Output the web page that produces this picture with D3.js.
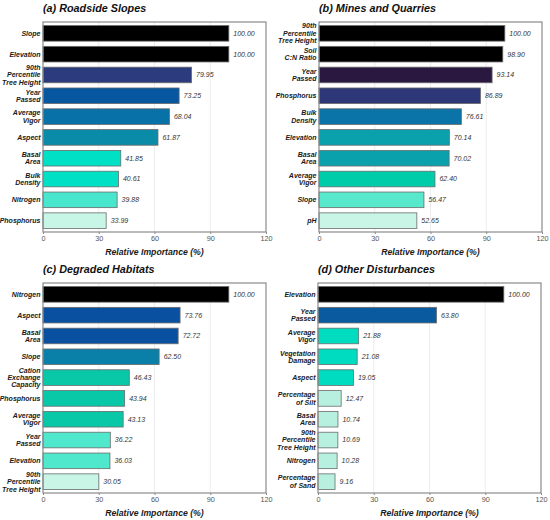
<!DOCTYPE html>
<html lang="en">
<head>
  <meta charset="utf-8" />
  <script src="https://d3js.org/d3.v7.min.js"></script>
  <style>
    body { margin: 0; background: #fff; }
    svg { font-family: "Liberation Sans", Arial, sans-serif; }
  </style>
</head>
<body>
<script>
  // data for the four panels
  let titles = ["(a) Roadside Slopes", "(b) Mines and Quarries", "(c) Degraded Habitats", "(d) Other Disturbances"];

  let varsA = ["Slope", "Elevation", "90th\nPercentile\nTree Height", "Year\nPassed", "Average\nVigor", "Aspect", "Basal\nArea", "Bulk\nDensity", "Nitrogen", "Phosphorus"];
  let valsA = [100.00, 100.00, 79.95, 73.25, 68.04, 61.87, 41.85, 40.61, 39.88, 33.99];

  let varsB = ["90th\nPercentile\nTree Height", "Soil\nC:N Ratio", "Year\nPassed", "Phosphorus", "Bulk\nDensity", "Elevation", "Basal\nArea", "Average\nVigor", "Slope", "pH"];
  let valsB = [100.00, 98.90, 93.14, 86.89, 76.61, 70.14, 70.02, 62.40, 56.47, 52.65];

  let varsC = ["Nitrogen", "Aspect", "Basal\nArea", "Slope", "Cation\nExchange\nCapacity", "Phosphorus", "Average\nVigor", "Year\nPassed", "Elevation", "90th\nPercentile\nTree Height"];
  let valsC = [100.00, 73.76, 72.72, 62.50, 46.43, 43.94, 43.13, 36.22, 36.03, 30.05];

  let varsD = ["Elevation", "Year\nPassed", "Average\nVigor", "Vegetation\nDamage", "Aspect", "Percentage\nof Silt", "Basal\nArea", "90th\nPercentile\nTree Height", "Nitrogen", "Percentage\nof Sand"];
  let valsD = [100.00, 63.80, 21.88, 21.08, 19.05, 12.47, 10.74, 10.69, 10.28, 9.16];

  let xTicks = [0, 30, 60, 90, 120];
  let xLabel = "Relative Importance (%)";

  // bar fills per panel (styling)
  let fillsA = ["#000000", "#000000", "#2c3a7e", "#0656a0", "#0872a8", "#0a8ca8", "#00e0c4", "#00e0c4", "#48e6cc", "#c8f6e6"];
  let fillsB = ["#000000", "#000000", "#2a1840", "#2e3878", "#0a74a8", "#0aa0ac", "#0aa0ac", "#00ccaa", "#58e8cc", "#c8f5e6"];
  let fillsC = ["#000000", "#0a50a0", "#0a50a0", "#0a80a8", "#08c8a8", "#08c8a8", "#08c8a8", "#50e8cc", "#50e8cc", "#c8f5e6"];
  let fillsD = ["#000000", "#0a5aa0", "#00dcc0", "#00dcc0", "#00dcc0", "#b8f0e0", "#b8f0e0", "#b8f0e0", "#b8f0e0", "#b8f0e0"];

  let panels = [
    { title: titles[0], vars: varsA, vals: valsA, fills: fillsA, x0: 43,  y0: 22 },
    { title: titles[1], vars: varsB, vals: valsB, fills: fillsB, x0: 319, y0: 22 },
    { title: titles[2], vars: varsC, vals: valsC, fills: fillsC, x0: 43,  y0: 283 },
    { title: titles[3], vars: varsD, vals: valsD, fills: fillsD, x0: 318, y0: 283 }
  ];

  let W = 223, H = 210;

  var svg = d3.select("body")
              .append("svg")
              .attr("width", 550)
              .attr("height", 520);

  panels.forEach(function (p) {
    let g = svg.append("g").attr("transform", "translate(" + p.x0 + "," + p.y0 + ")");

    let x = d3.scaleLinear().domain([0, 120]).range([0, W]);
    let y = d3.scaleBand().domain(d3.range(p.vals.length)).range([0, H])
              .paddingInner(0.25).paddingOuter(0.17);

    // faint grid
    g.selectAll("line.grid")
      .data(xTicks.slice(1, -1))
      .join("line")
      .attr("class", "grid")
      .attr("x1", d => x(d)).attr("x2", d => x(d))
      .attr("y1", 0).attr("y2", H)
      .attr("stroke", "#e8e8e8")
      .attr("stroke-width", 0.8);

    // bars
    g.selectAll("rect.bar")
      .data(p.vals)
      .join("rect")
      .attr("class", "bar")
      .attr("x", x(0))
      .attr("y", (d, i) => y(i))
      .attr("width", d => x(d) - x(0))
      .attr("height", y.bandwidth())
      .attr("fill", (d, i) => p.fills[i])
      .attr("stroke", "#6b6b6b")
      .attr("stroke-width", 0.8);

    // value labels
    g.selectAll("text.val")
      .data(p.vals)
      .join("text")
      .attr("class", "val")
      .attr("x", d => x(d) + 4.5)
      .attr("y", (d, i) => y(i) + y.bandwidth() / 2)
      .attr("dy", "0.35em")
      .attr("font-size", 7)
      .attr("font-style", "italic")
      .attr("fill", "#333")
      .text(d => d.toFixed(2));

    // category labels (multi-line)
    let lh = 7.4;
    g.selectAll("text.cat")
      .data(p.vars)
      .join("text")
      .attr("class", "cat")
      .attr("text-anchor", "end")
      .attr("font-size", 7)
      .attr("font-weight", "bold")
      .attr("font-style", "italic")
      .attr("fill", "#1a1a1a")
      .each(function (d, i) {
        let lines = d.split("\n");
        let cy = y(i) + y.bandwidth() / 2;
        let t = d3.select(this);
        lines.forEach(function (ln, k) {
          t.append("tspan")
            .attr("x", -2.5)
            .attr("y", cy + (k - (lines.length - 1) / 2) * lh)
            .attr("dy", "0.35em")
            .text(ln);
        });
      });

    // frame
    g.append("rect")
      .attr("x", 0).attr("y", 0)
      .attr("width", W).attr("height", H)
      .attr("fill", "none")
      .attr("stroke", "#8a8a8a")
      .attr("stroke-width", 1.2);

    // x axis
    let ax = g.append("g")
      .attr("transform", "translate(0," + H + ")")
      .call(d3.axisBottom(x).tickValues(xTicks).tickSize(2).tickPadding(2));
    ax.select(".domain").remove();
    ax.selectAll(".tick line").attr("stroke", "#8a8a8a");
    ax.selectAll(".tick text")
      .attr("font-size", 7.3)
      .attr("font-family", "Liberation Sans, Arial, sans-serif")
      .attr("fill", "#555");

    // axis title
    g.append("text")
      .attr("x", W / 2)
      .attr("y", H + 23)
      .attr("text-anchor", "middle")
      .attr("font-size", 8.7)
      .attr("font-weight", "bold")
      .attr("font-style", "italic")
      .attr("fill", "#1a1a1a")
      .text(xLabel);

    // panel title
    g.append("text")
      .attr("x", 0)
      .attr("y", -10)
      .attr("font-size", 10.8)
      .attr("font-weight", "bold")
      .attr("font-style", "italic")
      .attr("fill", "#111")
      .text(p.title);
  });
</script>
</body>
</html>
